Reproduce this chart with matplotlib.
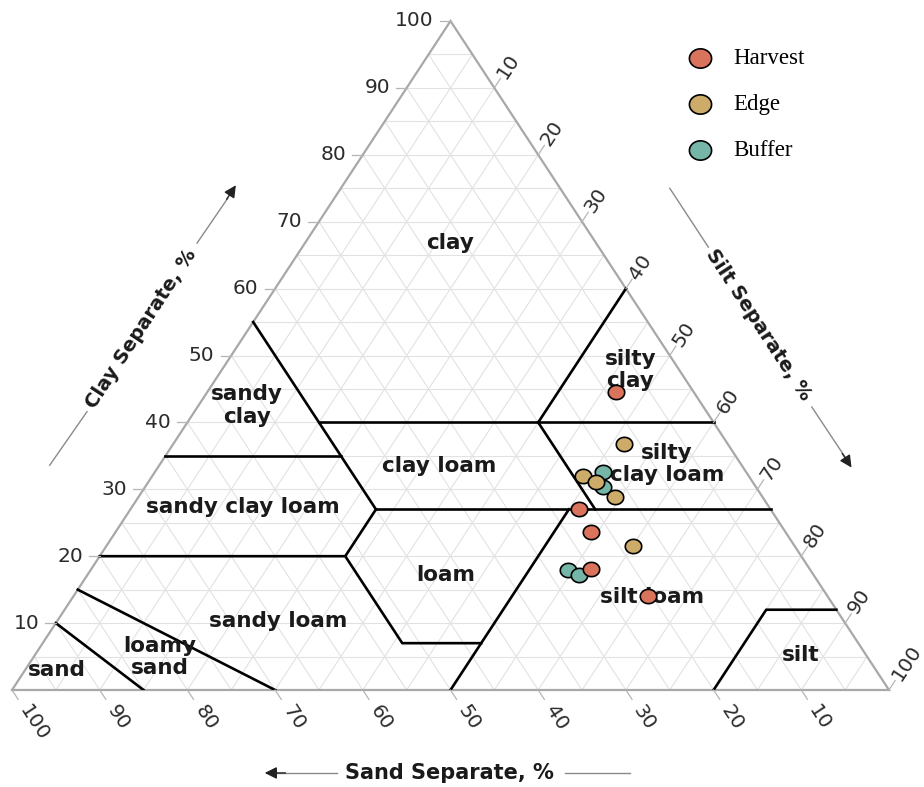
import numpy as np
import matplotlib
matplotlib.use("Agg")
import matplotlib.pyplot as plt
from matplotlib.path import Path

# =============================================================================
# --- Donnees : composition des echantillons (sable, limon, argile en %) ------
# =============================================================================

groupes = ["Harvest", "Edge", "Buffer"]
couleurs = ["#d9735b", "#cdab69", "#76b6a9"]

harvest_sand = [8.9, 21.8, 22.2, 24.9, 20.4]
harvest_silt = [46.6, 51.1, 54.2, 57.0, 65.5]
harvest_clay = [44.5, 27.1, 23.6, 18.1, 14.1]

edge_sand = [11.8, 18.9, 17.9, 16.8, 18.4]
edge_silt = [51.4, 49.1, 51.0, 54.4, 60.1]
edge_clay = [36.8, 32.0, 31.1, 28.8, 21.5]

buffer_sand = [16.3, 17.5, 27.6, 26.7]
buffer_silt = [51.1, 52.2, 54.5, 56.1]
buffer_clay = [32.6, 30.3, 17.9, 17.2]

# Limites des classes texturales USDA (sable, limon, argile)
limites = [
    [(45, 0, 55), (45, 28, 27)],
    [(65, 0, 35), (45, 20, 35)],
    [(45, 15, 40), (0, 60, 40)],
    [(20, 40, 40), (0, 40, 60)],
    [(20, 40, 40), (20, 53, 27)],
    [(45, 28, 27), (0, 73, 27)],
    [(80, 0, 20), (52, 28, 20), (45, 28, 27)],
    [(52, 28, 20), (52, 41, 7), (43, 50, 7)],
    [(50, 50, 0), (23, 50, 27)],
    [(20, 80, 0), (8, 80, 12), (0, 88, 12)],
    [(70, 30, 0), (85, 0, 15)],
    [(85, 15, 0), (90, 0, 10)],
]

# Noms des classes et leur position (sable, limon, argile)
classes = ["clay", "silty\nclay", "sandy\nclay", "clay loam", "silty\nclay loam",
           "sandy clay loam", "loam", "silt loam", "sandy loam", "loamy\nsand",
           "sand", "silt"]
classes_pos = [(16.7, 16.5, 66.8), (5.6, 46.6, 47.8), (52.0, 5.5, 42.5),
               (34.5, 32.0, 33.5), (8.4, 57.8, 33.8), (60.0, 12.6, 27.4),
               (41.9, 40.9, 17.2), (20.1, 66.0, 13.9), (64.5, 25.2, 10.3),
               (80.7, 14.4, 4.9), (93.4, 3.6, 3.0), (7.5, 87.3, 5.2)]

graduations = [10, 20, 30, 40, 50, 60, 70, 80, 90, 100]

# =============================================================================
# --- Passage des coordonnees ternaires au plan --------------------------------
# =============================================================================

def tern(sand, silt, clay):
    '''
    sand, silt, clay : pourcentages
    renvoie x, y dans le repere du triangle (base 0-100, sommet y=100)
    '''
    silt = np.asarray(silt, dtype=float)
    clay = np.asarray(clay, dtype=float)
    return silt + clay / 2.0, clay

ANG = np.degrees(np.arctan2(669 / 100.0, 877 / 200.0))  # angle apparent des cotes

fig = plt.figure(figsize=(9.24, 7.87), dpi=100)
ax = fig.add_axes([12 / 924, 97 / 787, 877 / 924, 669 / 787])
ax.set_xlim(0, 100)
ax.set_ylim(0, 100)
ax.axis("off")

# Grille tous les 5 %
for v in range(5, 100, 5):
    for a, b in [((100 - v, 0, v), (0, 100 - v, v)),
                 ((v, 100 - v, 0), (v, 0, 100 - v)),
                 ((100 - v, v, 0), (0, v, 100 - v))]:
        x, y = tern(*zip(a, b))
        ax.plot(x, y, color="#e2e2e2", lw=0.8, zorder=1)

# Contour du triangle
x, y = tern([100, 0, 0, 100], [0, 100, 0, 0], [0, 0, 100, 0])
ax.plot(x, y, color="#a8a8a8", lw=1.6, zorder=2, clip_on=False, solid_joinstyle="miter")

# Limites des classes
for seg in limites:
    x, y = tern(*zip(*seg))
    ax.plot(x, y, color="black", lw=1.9, zorder=2)

# Noms des classes
for nom, (s, t, c) in zip(classes, classes_pos):
    x, y = tern(s, t, c)
    ax.text(x, y, nom, ha="center", va="center", fontsize=15.5, fontweight="bold",
            color="#1a1a1a", linespacing=1.15, zorder=2)

# =============================================================================
# --- Graduations des trois axes ----------------------------------------------
# =============================================================================

tick_kw = dict(color="#b5b5b5", lw=0.9, clip_on=False)
lab_kw = dict(fontsize=14.5, color="#2b2b2b", rotation_mode="anchor")
for g in graduations:
    # argile (gauche)
    x0, y0 = tern(100 - g, 0, g)
    ax.plot([x0, x0 - 1.2], [y0, y0], **tick_kw)
    ax.text(x0 - 1.9, y0, str(g), ha="right", va="center", **lab_kw)
    # sable (bas)
    x0, y0 = tern(g, 100 - g, 0)
    ax.plot([x0, x0 + 0.7], [y0, y0 - 1.4], **tick_kw)
    ax.text(x0 + 1.3, y0 - 2.6, str(g), ha="left", va="center", rotation=-ANG, **lab_kw)
    # limon (droite)
    x0, y0 = tern(0, g, 100 - g)
    ax.plot([x0, x0 + 0.7], [y0, y0 + 1.4], **tick_kw)
    ax.text(x0 + 0.8, y0 + 1.6, str(g), ha="left", va="center", rotation=ANG, **lab_kw)

# Titres des axes avec leurs fleches
titre_kw = dict(fontweight="bold", color="#1a1a1a", ha="center",
                va="center", rotation_mode="anchor")
fl_kw = dict(arrowstyle="-|>", color="#222222", lw=1.0, mutation_scale=18)
trait = dict(color="#8a8a8a", lw=1.0, clip_on=False)

ax.text(49.9, -12.4, "Sand Separate, %", fontsize=15, **titre_kw)
ax.plot([37.1, 30.0], [-12.4, -12.4], **trait)
ax.annotate("", xy=(28.5, -12.4), xytext=(31.5, -12.4), arrowprops=fl_kw,
            annotation_clip=False)
ax.plot([63.1, 70.5], [-12.4, -12.4], **trait)

ax.text(14.7, 54.0, "Clay Separate, %", fontsize=14, rotation=ANG, **titre_kw)
ax.plot([4.3, 8.55], [33.6, 41.6], **trait)
ax.plot([21.1, 24.6], [66.8, 73.5], **trait)
ax.annotate("", xy=(25.7, 75.8), xytext=(24.3, 73.0), arrowprops=fl_kw,
            annotation_clip=False)

ax.text(85.1, 54.6, "Silt Separate, %", fontsize=14, rotation=-ANG, **titre_kw)
ax.plot([75.0, 79.4], [75.0, 66.2], **trait)
ax.plot([91.2, 95.0], [42.3, 34.8], **trait)
ax.annotate("", xy=(95.9, 32.9), xytext=(94.5, 35.7), arrowprops=fl_kw,
            annotation_clip=False)

# =============================================================================
# --- Points des echantillons -------------------------------------------------
# =============================================================================

theta = np.linspace(0, 2 * np.pi, 64)
rond = Path(np.column_stack([np.cos(theta), 0.87 * np.sin(theta)]))

series = [(harvest_sand, harvest_silt, harvest_clay),
          (edge_sand, edge_silt, edge_clay),
          (buffer_sand, buffer_silt, buffer_clay)]
handles = []
for nom, coul, (s, t, c), z in zip(groupes, couleurs, series, [6, 5, 4]):
    x, y = tern(s, t, c)
    h = ax.scatter(x, y, s=140, marker=rond, facecolor=coul, edgecolor="black",
                   linewidths=1.2, zorder=z, label=nom, clip_on=False)
    handles.append(h)

leg = ax.legend(handles=handles, loc="upper left", bbox_to_anchor=(689 / 924, 1 - 48 / 787),
                bbox_transform=fig.transFigure, frameon=False, markerscale=1.35,
                handlelength=1.0, handletextpad=0.95, labelspacing=1.08, borderpad=0,
                borderaxespad=0, prop={"family": "Liberation Serif", "size": 16.5})

fig.savefig("out.png", dpi=100)
